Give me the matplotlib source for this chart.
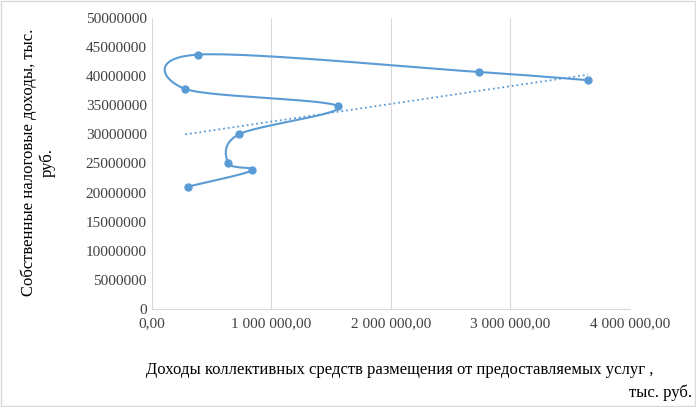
import numpy as np
import matplotlib
matplotlib.use("Agg")
import matplotlib.pyplot as plt
from matplotlib.ticker import FuncFormatter

plt.rcParams['font.family'] = ['Liberation Serif', 'DejaVu Serif']

income = [301000, 840000, 640000, 730000, 1560000, 280000, 390000, 2740000, 3650000]
taxes = [21000000, 23800000, 25000000, 30000000, 34800000, 37800000, 43700000, 40700000, 39300000]
color = '#5B9BD5'

def catmull(xs, ys, n=30):
    P = np.column_stack([xs, ys]).astype(float)
    P = np.vstack([P[0], P, P[-1]])
    out = []
    for i in range(1, len(P) - 2):
        p0, p1, p2, p3 = P[i-1], P[i], P[i+1], P[i+2]
        t = np.linspace(0, 1, n)[:, None]
        seg = 0.5 * ((2*p1) + (-p0+p2)*t + (2*p0-5*p1+4*p2-p3)*t**2 + (-p0+3*p1-3*p2+p3)*t**3)
        out.append(seg)
    return np.vstack(out)

fig = plt.figure(figsize=(6.96, 4.07), dpi=100)
ax = fig.add_axes([0.218, 0.241, 0.687, 0.715])
sx = 478/4000000; sy = 291/50000000
c = catmull(np.array(income)*sx, np.array(taxes)*sy)
ax.plot(c[:, 0]/sx, c[:, 1]/sy, color=color, lw=1.5)
ax.plot(income, taxes, 'o', color=color, ms=5)
k, b = np.polyfit(income, taxes, 1)
xt = np.array([min(income), max(income)])
ax.plot(xt, k*xt+b, ':', color=color, lw=1.3)

ax.set_xlim(0, 4000000)
ax.set_ylim(0, 50000000)
ax.set_xticks(np.arange(0, 4000001, 1000000))
ax.set_yticks(np.arange(0, 50000001, 5000000))
ax.xaxis.set_major_formatter(FuncFormatter(lambda v, p: f"{v:,.2f}".replace(",", " ").replace(".", ",")))
ax.yaxis.set_major_formatter(FuncFormatter(lambda v, p: f"{int(v)}"))
ax.grid(axis='x', color='#D9D9D9', lw=0.8)
for s in ['top', 'right', 'left']:
    ax.spines[s].set_visible(False)
ax.spines['bottom'].set_color('#D9D9D9')
ax.tick_params(length=0, labelsize=11, colors='#404040')
ax.tick_params(axis='x', pad=6)
fig.text(0.055, 0.6, "Собственные налоговые доходы, тыс.\nруб.", rotation=90, ha='center', va='center', fontsize=12)
fig.text(0.21, 0.09, "Доходы коллективных средств размещения от предоставляемых услуг ,", ha='left', va='center', fontsize=12)
fig.text(0.995, 0.035, "тыс. руб.", ha='right', va='center', fontsize=12)
fig.patches.append(plt.Rectangle((0.001, 0.002), 0.997, 0.995, transform=fig.transFigure, fill=False, ec='#D9D9D9', lw=1))
fig.savefig("out.png")
